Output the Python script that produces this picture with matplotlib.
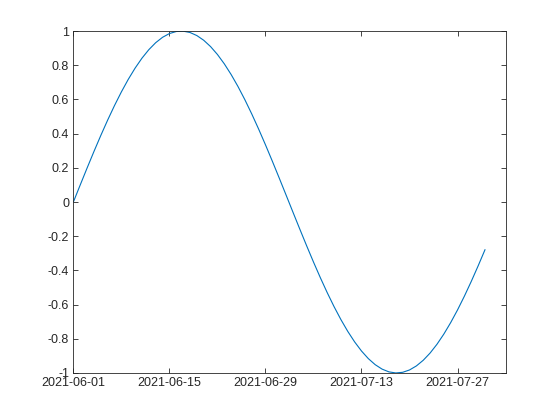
import numpy as np
import pandas as pd
import matplotlib
matplotlib.use("Agg")
import matplotlib.pyplot as plt
import matplotlib.dates as mdates

plt.rcParams['font.family'] = ['Liberation Sans', 'DejaVu Sans']
plt.rcParams['axes.unicode_minus'] = False

# one value per day, starting 2021-06-01
start_date = "2021-06-01"
values = [0.0, 0.0998, 0.1987, 0.2955, 0.3894, 0.4794, 0.5646, 0.6442, 0.7174, 0.7833,
          0.8415, 0.8912, 0.9320, 0.9636, 0.9854, 0.9975, 0.9996, 0.9917, 0.9738, 0.9463,
          0.9093, 0.8632, 0.8085, 0.7457, 0.6755, 0.5985, 0.5155, 0.4274, 0.3350, 0.2392,
          0.1411, 0.0416, -0.0584, -0.1577, -0.2555, -0.3508, -0.4425, -0.5298, -0.6119, -0.6878,
          -0.7568, -0.8183, -0.8716, -0.9162, -0.9516, -0.9775, -0.9937, -0.9999, -0.9962, -0.9825,
          -0.9589, -0.9258, -0.8835, -0.8323, -0.7728, -0.7055, -0.6313, -0.5507, -0.4646, -0.3739,
          -0.2794]
x_ticks = ["2021-06-01", "2021-06-15", "2021-06-29", "2021-07-13", "2021-07-27"]
y_ticks = [-1, -0.8, -0.6, -0.4, -0.2, 0, 0.2, 0.4, 0.6, 0.8, 1]
y_labels = ["-1", "-0.8", "-0.6", "-0.4", "-0.2", "0", "0.2", "0.4", "0.6", "0.8", "1"]

dates = pd.date_range(start_date, periods=len(values), freq="D")

fig = plt.figure(figsize=(5.6, 4.2), dpi=100)
ax = fig.add_axes([0.131, 0.112, 0.773, 0.814])
ax.plot(dates, values, color=(0, 0.447, 0.741), linewidth=0.8)

axis_col = (0.15, 0.15, 0.15)
ax.set_xlim(pd.Timestamp(start_date), pd.Timestamp(start_date) + pd.Timedelta(days=63.1))
ax.set_ylim(-1, 1)
ax.set_xticks(pd.to_datetime(x_ticks))
ax.xaxis.set_major_formatter(mdates.DateFormatter("%Y-%m-%d"))
ax.set_yticks(y_ticks)
ax.set_yticklabels(y_labels)
ax.tick_params(direction="in", length=3.5, width=0.6, colors=axis_col,
               labelsize=9, top=True, right=True, pad=3)
for s in ax.spines.values():
    s.set_color(axis_col)
    s.set_linewidth(0.6)

fig.savefig("out.png", dpi=100)
